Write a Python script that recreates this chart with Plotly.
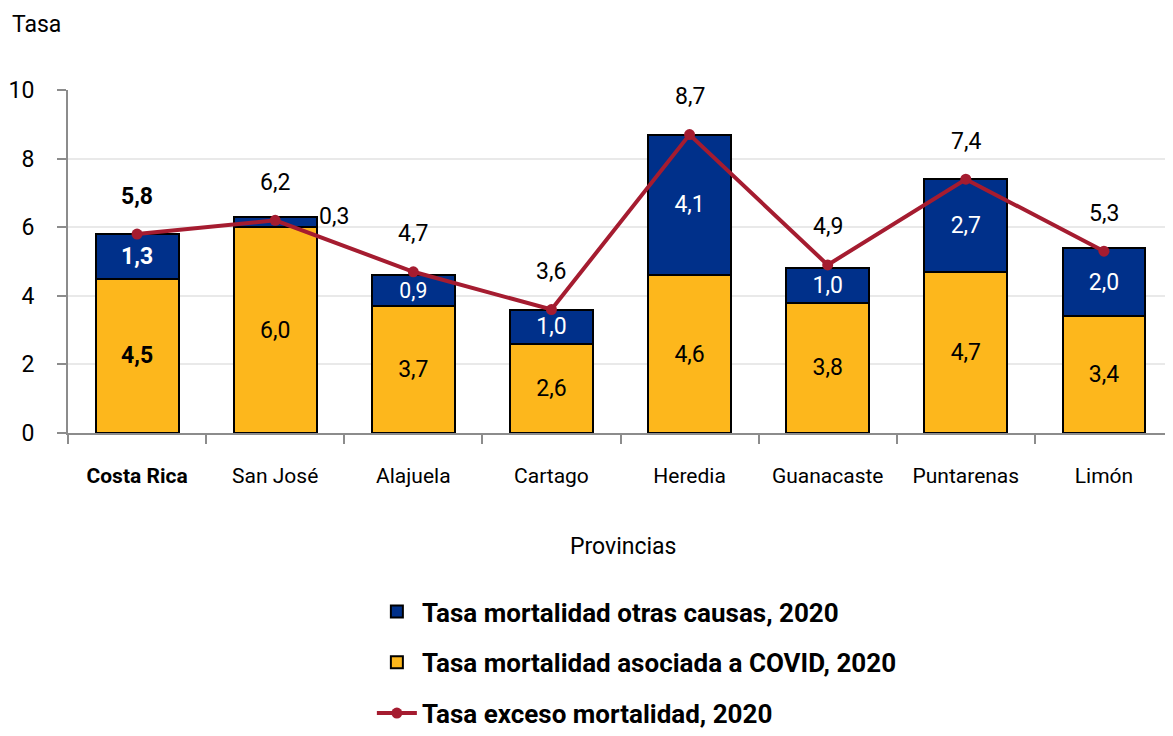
import plotly.graph_objects as go

provincias = ["Costa Rica", "San José", "Alajuela", "Cartago", "Heredia", "Guanacaste", "Puntarenas", "Limón"]
covid = [4.5, 6.0, 3.7, 2.6, 4.6, 3.8, 4.7, 3.4]
otras = [1.3, 0.3, 0.9, 1.0, 4.1, 1.0, 2.7, 2.0]
exceso = [5.8, 6.2, 4.7, 3.6, 8.7, 4.9, 7.4, 5.3]

FONT = "Roboto, Liberation Sans Narrow, sans-serif"
YELLOW = "#FDB71C"
BLUE = "#00308A"
RED = "#A51C30"


def fmt(v, bold=False):
    s = f"{v:.1f}".replace(".", ",")
    return f"<b>{s}</b>" if bold else s


tick_labels = [f"<b>{p}</b>" if i == 0 else p for i, p in enumerate(provincias)]

fig = go.Figure()

fig.add_trace(go.Bar(
    x=provincias, y=covid, name="<b>Tasa mortalidad asociada a COVID, 2020</b>",
    marker=dict(color=YELLOW, line=dict(color="black", width=2)),
    text=[fmt(v, i == 0) for i, v in enumerate(covid)],
    textposition="inside", insidetextanchor="middle",
    textfont=dict(color="black", size=23, family=FONT),
    width=0.6, legendrank=2, legendgroup="b",
))

otras_text = [fmt(v, i == 0) for i, v in enumerate(otras)]
otras_text[1] = ""
fig.add_trace(go.Bar(
    x=provincias, y=otras, name="<b>Tasa mortalidad otras causas, 2020</b>",
    marker=dict(color=BLUE, line=dict(color="black", width=2)),
    text=otras_text,
    textposition="inside", insidetextanchor="middle",
    textfont=dict(color="white", size=23, family=FONT),
    width=0.6, legendrank=1, legendgroup="a",
))

fig.add_trace(go.Scatter(
    x=provincias, y=exceso, name="<b>Tasa exceso mortalidad, 2020</b>",
    mode="lines+markers",
    line=dict(color=RED, width=4),
    marker=dict(color=RED, size=11, symbol="circle"),
    legendrank=3, legendgroup="c",
))

annotations = []
for i, (p, v) in enumerate(zip(provincias, exceso)):
    annotations.append(dict(
        x=p, y=v, xref="x", yref="y", text=fmt(v, i == 0), showarrow=False,
        yshift=38, font=dict(size=23, family=FONT, color="black"),
    ))
# San José "otras causas" label outside the bar
annotations.append(dict(
    x=provincias[1], y=covid[1] + otras[1] / 2, xref="x", yref="y",
    text=fmt(otras[1]), showarrow=False, xanchor="left", xshift=42, yshift=6,
    font=dict(size=23, family=FONT, color="black"),
))
annotations.append(dict(
    x=-0.0525, y=1.19, xref="paper", yref="paper", text="Tasa", showarrow=False,
    xanchor="left", yanchor="middle", font=dict(size=23, family=FONT, color="black"),
))
annotations.append(dict(
    x=0.502, y=-0.332, xref="paper", yref="paper", text="Provincias", showarrow=False,
    xanchor="center", yanchor="middle", font=dict(size=23, family=FONT, color="black"),
))

fig.update_layout(
    width=1165, height=728,
    margin=dict(l=60, r=0, t=82, b=303, autoexpand=False),
    barmode="stack",
    plot_bgcolor="white", paper_bgcolor="white",
    font=dict(family=FONT, size=23, color="black"),
    annotations=annotations,
    legend=dict(
        orientation="v", x=0.275, xanchor="left", y=-0.452, yanchor="top",
        font=dict(size=26, family=FONT, color="black"),
        traceorder="grouped", tracegroupgap=14, itemwidth=40,
        bgcolor="rgba(0,0,0,0)",
    ),
    xaxis=dict(
        tickmode="array", tickvals=provincias, ticktext=tick_labels, tickangle=0,
        showline=True, linecolor="#8c8c8c", linewidth=2, automargin=False,
        ticks="outside", tickson="boundaries", ticklen=9, tickcolor="#8c8c8c", tickwidth=2,
        ticklabelstandoff=23, showgrid=False,
        tickfont=dict(size=21, family=FONT, color="black"),
    ),
    yaxis=dict(
        range=[0, 10], dtick=2, showline=True, linecolor="#8c8c8c", linewidth=2,
        ticks="outside", ticklen=9, tickcolor="#8c8c8c", tickwidth=2,
        ticklabelstandoff=18, automargin=False,
        gridcolor="#e9e9e9", gridwidth=2, zeroline=False,
        tickfont=dict(size=23, family=FONT, color="black"),
    ),
)

fig.write_html("out.html")
